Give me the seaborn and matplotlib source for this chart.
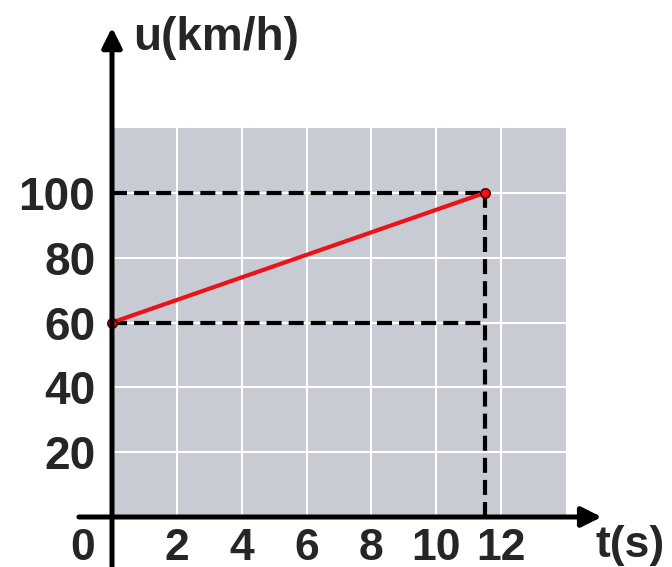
import pandas as pd
import matplotlib
matplotlib.use("Agg")
import matplotlib.pyplot as plt
import seaborn as sns

# values
t_points = [0, 11.5]
u_points = [60, 100]
t_ticks = [2, 4, 6, 8, 10, 12]
u_ticks = [20, 40, 60, 80, 100]
t_max = 14
u_max = 120

sns.set_style("darkgrid", {"axes.facecolor": "#c9cbd4", "grid.color": "white"})
plt.rcParams['font.family'] = ['Liberation Sans', 'DejaVu Sans']
plt.rcParams['font.weight'] = 'bold'

fig = plt.figure(figsize=(6.72, 5.67), dpi=100)
ax = fig.add_axes([112 / 672, 50 / 567, 454 / 672, 389 / 567])

df = pd.DataFrame({"t": t_points, "u": u_points})
t_end, u_end = t_points[-1], u_points[-1]
u_start = u_points[0]

# dashed guide lines
dash = dict(color="black", lw=3, dashes=(3.6, 1.7), zorder=3)
ax.plot([0, t_end], [u_end, u_end], **dash)
ax.plot([0, t_end], [u_start, u_start], **dash)
ax.plot([t_end, t_end], [0, u_end], **dash)

sns.lineplot(data=df, x="t", y="u", color="#e8141a", lw=3, ax=ax, zorder=4)
sns.scatterplot(data=df, x="t", y="u", color="#e8141a", edgecolor="#5a0000",
                linewidth=1.2, s=45, ax=ax, zorder=5, clip_on=False)

ax.set_xlim(0, t_max)
ax.set_ylim(0, u_max)
ax.set_xticks(t_ticks)
ax.set_yticks(u_ticks)
ax.set_xlabel("")
ax.set_ylabel("")
ax.grid(True, lw=1.5)
ax.tick_params(axis="x", length=0, labelsize=32, pad=8)
ax.tick_params(axis="y", length=0, labelsize=33, pad=12)
for s in ax.spines.values():
    s.set_visible(False)

# axes with arrows
arrow = dict(arrowstyle="-|>,head_length=0.6,head_width=0.3", lw=3.6,
             color="black", mutation_scale=20, shrinkA=0, shrinkB=0)
ax.annotate("", xy=(0, 151), xytext=(0, -16), arrowprops=arrow,
            annotation_clip=False, zorder=6)
ax.annotate("", xy=(15.1, 0), xytext=(-1.02, 0), arrowprops=arrow,
            annotation_clip=False, zorder=6)

ax.annotate("0", xy=(0, 0), xytext=(-21, -8), textcoords="offset points",
            ha="center", va="top", fontsize=32, fontweight="bold")

fig.text(133 / 672, 1 - 38 / 567, "u(km/h)", ha="left", va="center",
         fontsize=33, fontweight="bold")
fig.text(596 / 672, 1 - 545 / 567, "t(s)", ha="left", va="center",
         fontsize=32, fontweight="bold")

fig.savefig("out.png", dpi=100)
